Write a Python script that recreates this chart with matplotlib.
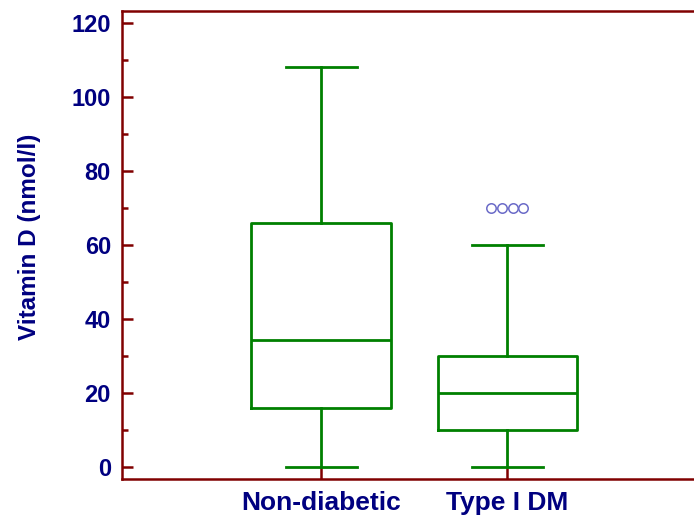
import numpy as np
import matplotlib
matplotlib.use("Agg")
import matplotlib.pyplot as plt

# ---------------- data ----------------
groups = ["Non-diabetic", "Type I DM"]
whislo = [0, 0]
q1 = [16, 10]
med = [34.5, 20]
q3 = [66, 30]
whishi = [108, 60]
outliers_type1 = [70, 70, 70, 70]

navy = "#000080"
maroon = "#800000"
green = "#008000"

plt.rcParams["font.family"] = ["Liberation Sans", "DejaVu Sans"]
plt.rcParams["font.weight"] = "bold"

fig = plt.figure(figsize=(6.94, 5.16), dpi=100)
ax = fig.add_axes([122 / 694, 37.5 / 516, 579 / 694, 468 / 516])

stats = []
for i in range(len(groups)):
    stats.append(dict(label=groups[i], whislo=whislo[i], q1=q1[i], med=med[i],
                      q3=q3[i], whishi=whishi[i], fliers=[]))

lw = 2.0
ax.bxp(stats, positions=[1, 2], widths=0.75, capwidths=0.38, showfliers=False,
       boxprops=dict(color=green, lw=lw),
       medianprops=dict(color=green, lw=lw),
       whiskerprops=dict(color=green, lw=lw),
       capprops=dict(color=green, lw=lw))

# identical outliers drawn side by side
n = len(outliers_type1)
xs = 2 + (np.arange(n) - (n - 1) / 2) * 0.057
ax.plot(xs, outliers_type1, ls="none", marker="o", ms=6.8, mfc="none",
        mec="#6b6bc8", mew=1.1)

ax.set_xlim(-0.07, 3.04)
ax.set_ylim(-3.0, 123.3)
ax.set_yticks(np.arange(0, 121, 20))
ax.set_yticks(np.arange(10, 121, 20), minor=True)
ax.set_xticks([1, 2])
ax.set_xticklabels(groups)

for s in ax.spines.values():
    s.set_color(maroon)
    s.set_linewidth(1.8)
ax.spines["right"].set_visible(False)

ax.tick_params(axis="both", which="major", direction="in", length=8,
               width=1.8, color=maroon, labelcolor=navy, pad=8)
ax.tick_params(axis="y", which="major", labelsize=17)
ax.tick_params(axis="x", which="major", labelsize=19, pad=9)
ax.tick_params(axis="y", which="minor", direction="in", length=4,
               width=1.8, color=maroon)
for lab in ax.get_xticklabels() + ax.get_yticklabels():
    lab.set_fontweight("bold")

ax.set_ylabel("Vitamin D (nmol/l)", fontsize=17.5, fontweight="bold",
              color=navy)
ax.yaxis.set_label_coords(-0.140, 0.517)

fig.savefig("out.png", dpi=100)
